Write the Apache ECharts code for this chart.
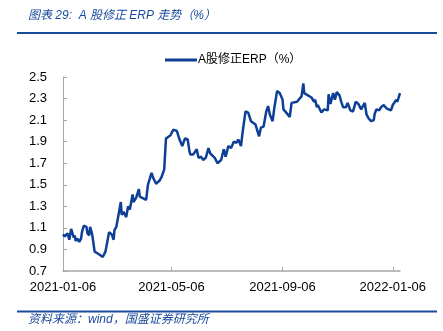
<!DOCTYPE html>
<html><head><meta charset="utf-8">
<script src="https://cdn.jsdelivr.net/npm/echarts@6/dist/echarts.min.js"></script>
<style>html,body{margin:0;padding:0;background:#fff}#c{width:443px;height:331px}</style>
</head><body><div id="c"></div>
<script>
var titleText = '图表 29:  A 股修正 ERP 走势（%）';
var sourceText = '资料来源：wind，国盛证券研究所';
var seriesName = 'A股修正ERP（%）';
var xTickLabels = ['2021-01-06','2021-05-06','2021-09-06','2022-01-06'];
var yTickValues = [0.7,0.9,1.1,1.3,1.5,1.7,1.9,2.1,2.3,2.5];
var dates = [
'2021-01-06','2021-01-08','2021-01-11','2021-01-13','2021-01-15','2021-01-18','2021-01-19','2021-01-20','2021-01-22','2021-01-24',
'2021-01-26','2021-01-27','2021-01-29','2021-02-01','2021-02-02','2021-02-04','2021-02-05','2021-02-07','2021-02-08','2021-02-10',
'2021-02-14','2021-02-19','2021-02-22','2021-02-24','2021-02-26','2021-03-01','2021-03-03','2021-03-04','2021-03-06','2021-03-08',
'2021-03-11','2021-03-12','2021-03-14','2021-03-17','2021-03-19','2021-03-21','2021-03-24','2021-03-25','2021-03-28','2021-03-31',
'2021-04-01','2021-04-08','2021-04-10','2021-04-14','2021-04-16','2021-04-19','2021-04-23','2021-04-25','2021-04-28','2021-04-30',
'2021-05-05','2021-05-08','2021-05-12','2021-05-15','2021-05-18','2021-05-21','2021-05-24','2021-05-26','2021-05-27','2021-05-30',
'2021-06-03','2021-06-05','2021-06-08','2021-06-10','2021-06-13','2021-06-16','2021-06-18','2021-06-20','2021-06-23','2021-06-26',
'2021-06-28','2021-06-30','2021-07-03','2021-07-05','2021-07-08','2021-07-11','2021-07-14','2021-07-17','2021-07-19','2021-07-22',
'2021-07-24','2021-07-27','2021-07-30','2021-08-02','2021-08-04','2021-08-07','2021-08-11','2021-08-13','2021-08-16','2021-08-19',
'2021-08-21','2021-08-23','2021-08-26','2021-08-28','2021-08-31','2021-09-03','2021-09-06','2021-09-07','2021-09-11','2021-09-14',
'2021-09-16','2021-09-22','2021-09-24','2021-09-27','2021-09-29','2021-09-30','2021-10-08','2021-10-11','2021-10-12','2021-10-14',
'2021-10-15','2021-10-19','2021-10-22','2021-10-26','2021-10-27','2021-10-29','2021-11-01','2021-11-03','2021-11-05','2021-11-08',
'2021-11-10','2021-11-12','2021-11-15','2021-11-17','2021-11-20','2021-11-23','2021-11-26','2021-11-29','2021-12-02','2021-12-03',
'2021-12-06','2021-12-08','2021-12-10','2021-12-13','2021-12-16','2021-12-17','2021-12-19','2021-12-22','2021-12-24','2021-12-27',
'2021-12-30','2022-01-04','2022-01-06','2022-01-07','2022-01-10','2022-01-11','2022-01-14'
];
var erp = [
1.04,1.02,1.05,0.99,1.09,1.01,1.03,0.98,1.00,0.97,
1.00,1.06,1.12,1.11,1.05,1.03,1.11,1.05,1.00,0.88,
0.86,0.83,0.88,0.97,1.06,1.04,0.99,1.08,1.11,1.20,
1.34,1.22,1.25,1.20,1.30,1.27,1.41,1.34,1.38,1.46,
1.39,1.36,1.50,1.61,1.56,1.51,1.54,1.57,1.64,1.93,
1.96,2.01,2.00,1.92,1.86,1.93,1.92,1.81,1.78,1.78,
1.83,1.75,1.76,1.73,1.75,1.84,1.79,1.80,1.75,1.70,
1.70,1.73,1.83,1.76,1.86,1.84,1.90,1.89,1.92,1.86,
2.00,2.18,2.17,2.09,2.10,2.06,1.95,2.03,2.04,2.18,
2.23,2.15,2.09,2.22,2.37,2.35,2.29,2.20,2.16,2.13,
2.26,2.27,2.27,2.32,2.44,2.35,2.31,2.27,2.29,2.22,
2.24,2.17,2.20,2.19,2.34,2.25,2.35,2.29,2.36,2.33,
2.27,2.22,2.22,2.26,2.19,2.18,2.27,2.25,2.20,2.19,
2.26,2.15,2.12,2.09,2.10,2.16,2.20,2.19,2.22,2.24,
2.21,2.19,2.24,2.25,2.29,2.27,2.35
];
var xMin = '2021-01-06', xMax = '2022-01-14';

function ts(s){ var p = s.split('-'); return Date.UTC(+p[0], +p[1]-1, +p[2]); }
function pad(n){ return (n<10?'0':'')+n; }
function fmt(v){ var d = new Date(v); return d.getUTCFullYear()+'-'+pad(d.getUTCMonth()+1)+'-'+pad(d.getUTCDate()); }
var seriesData = dates.map(function(d,i){ return [ts(d), erp[i]]; });
var xTicks = xTickLabels.map(ts);
var chart = echarts.init(document.getElementById('c'));
var blue = '#1a4a9c';
var ff = 'Liberation Sans, Noto Sans CJK SC, sans-serif';
chart.setOption({
  animation: false,
  textStyle: { fontFamily: ff },
  graphic: [
    { type: 'text', left: 28, top: 10, style: { text: titleText, fill: blue, fontSize: 12, fontStyle: 'italic', fontFamily: ff } },
    { type: 'rect', shape: { x: 17, y: 32, width: 420, height: 2 }, style: { fill: blue } },
    { type: 'rect', shape: { x: 17, y: 310.5, width: 420, height: 2 }, style: { fill: blue } },
    { type: 'text', left: 28, top: 314, style: { text: sourceText, fill: blue, fontSize: 12, fontStyle: 'italic', fontFamily: ff } }
  ],
  legend: {
    left: 160, top: 49, icon: 'rect', itemWidth: 32, itemHeight: 3,
    textStyle: { fontSize: 12, color: '#000', padding: [0,0,0,-4] },
    data: [seriesName]
  },
  grid: { left: 63, right: 43, top: 77, bottom: 60, containLabel: false },
  xAxis: {
    type: 'value', min: ts(xMin), max: ts(xMax), scale: true,
    axisLine: { lineStyle: { color: '#a6a6a6', width: 1.5 } },
    axisTick: { show: true, inside: true, length: 4, customValues: xTicks, lineStyle: { color: '#a6a6a6' } },
    axisLabel: { customValues: xTicks, fontSize: 13, color: '#000', margin: 10, hideOverlap: false, formatter: fmt },
    splitLine: { show: false }
  },
  yAxis: {
    type: 'value', min: 0.7, max: 2.5,
    axisLine: { show: true, lineStyle: { color: '#a6a6a6', width: 1 } },
    axisTick: { show: true, inside: true, length: 4, customValues: yTickValues, lineStyle: { color: '#a6a6a6' } },
    axisLabel: { customValues: yTickValues, fontSize: 13, color: '#000', margin: 16, formatter: function(v){ return v.toFixed(1); } },
    splitLine: { show: false }
  },
  series: [{
    name: seriesName, type: 'line', data: seriesData, symbol: 'none',
    lineStyle: { color: '#0c3f95', width: 2.5 }, itemStyle: { color: '#0c3f95' }
  }]
});
</script></body></html>
